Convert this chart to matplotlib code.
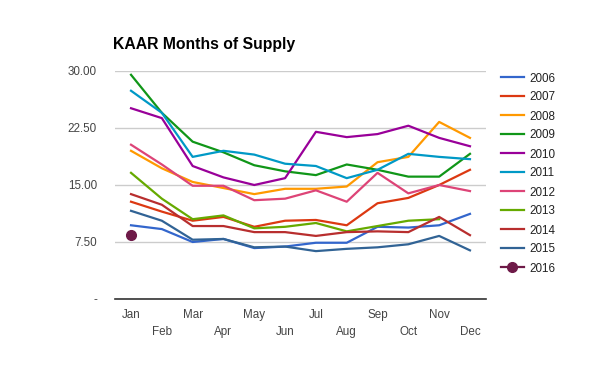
import numpy as np
import matplotlib
matplotlib.use("Agg")
import matplotlib.pyplot as plt

plt.rcParams['font.family'] = ['Liberation Sans', 'DejaVu Sans']

months = ['Jan', 'Feb', 'Mar', 'Apr', 'May', 'Jun',
          'Jul', 'Aug', 'Sep', 'Oct', 'Nov', 'Dec']
years = ['2006', '2007', '2008', '2009', '2010', '2011',
         '2012', '2013', '2014', '2015', '2016']

nan = np.nan
y2006 = [9.7, 9.2, 7.5, 7.9, 6.7, 6.9, 7.4, 7.4, 9.5, 9.4, 9.7, 11.2]
y2007 = [12.8, 11.5, 10.3, 10.8, 9.5, 10.3, 10.4, 9.7, 12.6, 13.3, 15.0, 17.0]
y2008 = [19.5, 17.2, 15.4, 14.6, 13.8, 14.5, 14.5, 14.8, 18.0, 18.7, 23.3, 21.2]
y2009 = [29.5, 24.5, 20.7, 19.3, 17.6, 16.8, 16.3, 17.7, 17.0, 16.1, 16.1, 19.1]
y2010 = [25.1, 23.8, 17.5, 16.0, 15.0, 15.9, 22.0, 21.3, 21.7, 22.8, 21.2, 20.1]
y2011 = [27.4, 24.5, 18.7, 19.5, 19.0, 17.8, 17.5, 15.9, 17.0, 19.1, 18.7, 18.4]
y2012 = [20.3, 17.7, 14.9, 14.9, 13.0, 13.2, 14.3, 12.8, 16.6, 13.9, 15.0, 14.2]
y2013 = [16.6, 13.2, 10.5, 11.0, 9.3, 9.5, 10.0, 8.9, 9.6, 10.3, 10.5, nan]
y2014 = [13.8, 12.4, 9.6, 9.6, 8.8, 8.8, 8.3, 8.8, 8.9, 8.8, 10.8, 8.4]
y2015 = [11.6, 10.3, 7.8, 7.9, 6.8, 6.9, 6.3, 6.6, 6.8, 7.2, 8.3, 6.4]
y2016 = [8.4] + [nan] * 11

series = [y2006, y2007, y2008, y2009, y2010, y2011,
          y2012, y2013, y2014, y2015, y2016]
colors = ['#3366cc', '#dc3912', '#ff9900', '#109618', '#990099', '#0099c6',
          '#dd4477', '#66aa00', '#b82e2e', '#316395', '#6e1a48']

fig = plt.figure(figsize=(6, 3.71), dpi=100)
ax = fig.add_axes([115/600, 1-299/371, (486-115)/600, (299-71)/371])

x = np.arange(len(months))
for i in range(len(series)):
    if years[i] == '2016':
        ax.plot(x, series[i], color=colors[i], lw=1.6, marker='o', ms=7,
                label=years[i], clip_on=False, zorder=3)
    else:
        ax.plot(x, series[i], color=colors[i], lw=1.6, label=years[i],
                clip_on=False, zorder=3)

ax.set_xlim(-0.52, 11.52)
ax.set_ylim(0, 30)
ax.set_yticks([0, 7.5, 15, 22.5, 30])
ax.set_yticklabels(['-', '7.50', '15.00', '22.50', '30.00'])
ax.set_xticks(x)
ax.set_xticklabels([m if i % 2 == 0 else '\n' + m for i, m in enumerate(months)])
for lbl in ax.get_xticklabels():
    lbl.set_linespacing(1.55)

ax.grid(axis='y', color='#cccccc', lw=1)
ax.set_axisbelow(True)
for s in ['top', 'right', 'left']:
    ax.spines[s].set_visible(False)
ax.spines['bottom'].set_color('#333333')
ax.spines['bottom'].set_linewidth(1.2)
ax.tick_params(axis='both', length=0, labelsize=8.4, labelcolor='#444444')
ax.tick_params(axis='y', pad=13)
ax.tick_params(axis='x', pad=7)

fig.text(113/600, 1-45/371, 'KAAR Months of Supply', fontsize=11.3,
         fontweight='bold', va='center', ha='left', color='#000000')

fig.legend(loc='upper left', bbox_to_anchor=(490/600, 1-62/371), frameon=False,
           fontsize=8.4, handlelength=2.0, handletextpad=0.5,
           labelspacing=0.6, labelcolor='#222222')

plt.savefig('out.png', dpi=100)
